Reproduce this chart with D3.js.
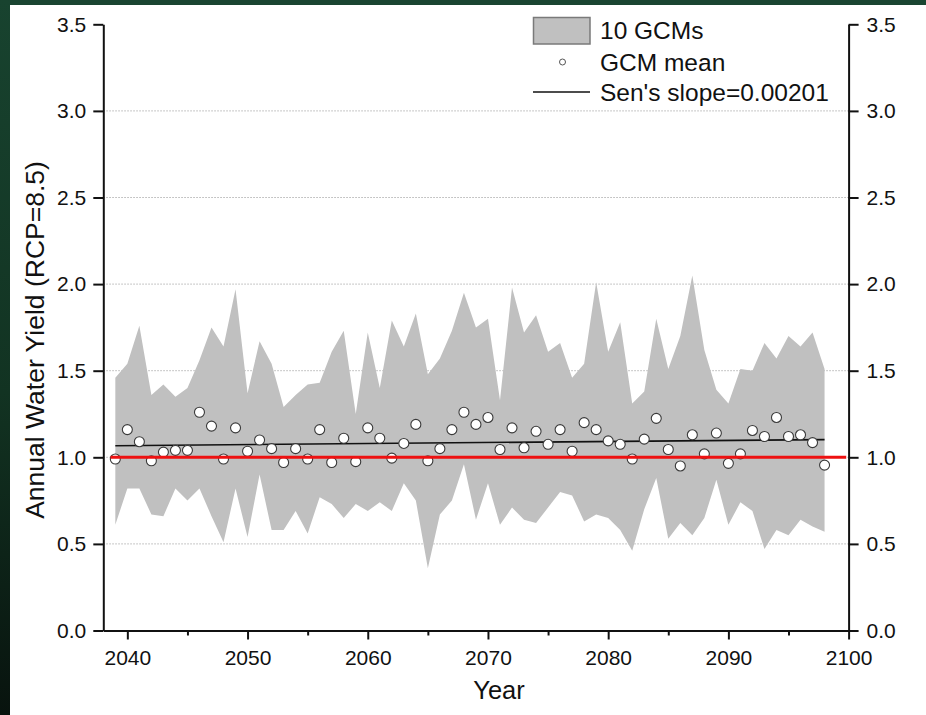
<!DOCTYPE html>
<html>
<head>
<meta charset="utf-8">
<script src="https://cdn.jsdelivr.net/npm/d3@7"></script>
<style>
  html, body { margin: 0; padding: 0; background: #ffffff; }
  svg { display: block; }
  text { font-family: "Liberation Sans", Arial, sans-serif; fill: #111; }
</style>
</head>
<body>
<svg id="chart" width="926" height="715"></svg>
<script>
// Projection years
const years = [
  2039, 2040, 2041, 2042, 2043, 2044, 2045, 2046, 2047, 2048,
  2049, 2050, 2051, 2052, 2053, 2054, 2055, 2056, 2057, 2058,
  2059, 2060, 2061, 2062, 2063, 2064, 2065, 2066, 2067, 2068,
  2069, 2070, 2071, 2072, 2073, 2074, 2075, 2076, 2077, 2078,
  2079, 2080, 2081, 2082, 2083, 2084, 2085, 2086, 2087, 2088,
  2089, 2090, 2091, 2092, 2093, 2094, 2095, 2096, 2097, 2098
];

// Upper envelope of the 10 GCMs
const gcmMax = [
  1.46, 1.54, 1.76, 1.36, 1.42, 1.35, 1.40, 1.56, 1.75, 1.64,
  1.97, 1.37, 1.67, 1.54, 1.29, 1.36, 1.42, 1.43, 1.61, 1.73,
  1.25, 1.72, 1.40, 1.79, 1.64, 1.83, 1.48, 1.57, 1.73, 1.95,
  1.75, 1.80, 1.33, 1.98, 1.72, 1.82, 1.61, 1.66, 1.46, 1.54,
  2.01, 1.61, 1.78, 1.31, 1.38, 1.80, 1.51, 1.70, 2.05, 1.62,
  1.39, 1.31, 1.51, 1.50, 1.66, 1.57, 1.70, 1.64, 1.72, 1.51
];

// Lower envelope of the 10 GCMs
const gcmMin = [
  0.61, 0.82, 0.82, 0.67, 0.66, 0.82, 0.75, 0.82, 0.66, 0.51,
  0.82, 0.54, 0.90, 0.58, 0.58, 0.69, 0.56, 0.77, 0.73, 0.65,
  0.73, 0.69, 0.74, 0.69, 0.85, 0.75, 0.36, 0.67, 0.75, 0.96,
  0.64, 0.85, 0.61, 0.71, 0.64, 0.62, 0.71, 0.80, 0.78, 0.63,
  0.67, 0.65, 0.58, 0.46, 0.70, 0.88, 0.53, 0.62, 0.55, 0.65,
  0.87, 0.61, 0.74, 0.69, 0.47, 0.58, 0.55, 0.64, 0.60, 0.57
];

// Ensemble mean of the 10 GCMs
const gcmMean = [
  0.99, 1.16, 1.09, 0.98, 1.03, 1.04, 1.04, 1.26, 1.18, 0.99,
  1.17, 1.035, 1.10, 1.05, 0.97, 1.05, 0.99, 1.16, 0.97, 1.11,
  0.975, 1.17, 1.11, 0.995, 1.08, 1.19, 0.98, 1.05, 1.16, 1.26,
  1.19, 1.23, 1.045, 1.17, 1.055, 1.15, 1.075, 1.16, 1.035, 1.20,
  1.16, 1.095, 1.075, 0.99, 1.105, 1.225, 1.045, 0.95, 1.13, 1.02,
  1.14, 0.965, 1.02, 1.155, 1.12, 1.23, 1.12, 1.13, 1.085, 0.955
];

// Trend line end points (year, value)
const trendYears = [2039, 2098];
const trendValues = [1.067, 1.102];

// Reference level
const refValue = 1.0;
const refYears = [2038.6, 2099.8];

// Axis ticks
const xMajorTicks = [2040, 2050, 2060, 2070, 2080, 2090, 2100];
const xMinorTicks = [2045, 2055, 2065, 2075, 2085, 2095];
const yTicks = [0.0, 0.5, 1.0, 1.5, 2.0, 2.5, 3.0, 3.5];
const gridValues = [0.5, 1.0, 1.5, 2.0, 2.5, 3.0];

// Legend entries
const legendLabels = ["10 GCMs", "GCM mean", "Sen's slope=0.00201"];
const xTitle = "Year";
const yTitle = "Annual Water Yield (RCP=8.5)";

const data = years.map((yr, i) => ({ year: yr, hi: gcmMax[i], lo: gcmMin[i], mean: gcmMean[i] }));

const svg = d3.select("#chart");

// slide backdrop strips
const defs = svg.append("defs");
const grad = defs.append("linearGradient").attr("id", "edge").attr("x1", 0).attr("y1", 0).attr("x2", 0).attr("y2", 1);
grad.append("stop").attr("offset", "0%").attr("stop-color", "#18432f");
grad.append("stop").attr("offset", "55%").attr("stop-color", "#123322");
grad.append("stop").attr("offset", "100%").attr("stop-color", "#08130e");
svg.append("rect").attr("x", 0).attr("y", 0).attr("width", 926).attr("height", 5).attr("fill", "#1a4531");
svg.append("rect").attr("x", 0).attr("y", 0).attr("width", 10).attr("height", 715).attr("fill", "url(#edge)");

const plotLeft = 103.3, plotRight = 848.6, plotTop = 24.3, plotBottom = 630.5;
const x = d3.scaleLinear().domain([2038, 2100]).range([plotLeft, plotRight]);
const y = d3.scaleLinear().domain([0, 3.5]).range([plotBottom, plotTop]);

// dotted grid
svg.append("g").selectAll("line").data(gridValues).join("line")
  .attr("x1", plotLeft).attr("x2", plotRight)
  .attr("y1", d => y(d)).attr("y2", d => y(d))
  .attr("stroke", "#b4b4b4").attr("stroke-width", 1)
  .attr("stroke-dasharray", "1.5,1.5");

// GCM envelope
const area = d3.area().x(d => x(d.year)).y0(d => y(d.lo)).y1(d => y(d.hi));
svg.append("path").datum(data).attr("d", area).attr("fill", "#c0c0c0");

// Sen's slope trend
const trendLine = d3.line().x(d => x(d[0])).y(d => y(d[1]));
svg.append("path")
  .datum(trendYears.map((t, i) => [t, trendValues[i]]))
  .attr("d", trendLine).attr("fill", "none")
  .attr("stroke", "#111").attr("stroke-width", 1.6);

// mean markers
svg.append("g").selectAll("circle").data(data).join("circle")
  .attr("cx", d => x(d.year)).attr("cy", d => y(d.mean)).attr("r", 5)
  .attr("fill", "#ffffff").attr("stroke", "#3a3a3a").attr("stroke-width", 1.1);

// reference line at 1.0
svg.append("line")
  .attr("x1", x(refYears[0])).attr("x2", x(refYears[1]))
  .attr("y1", y(refValue)).attr("y2", y(refValue))
  .attr("stroke", "#ee1111").attr("stroke-width", 3);

// axes
const fmt = d3.format(".1f");
const styleAxis = g => {
  g.selectAll("path.domain").attr("stroke", "#111").attr("stroke-width", 2);
  g.selectAll(".tick line").attr("stroke", "#111").attr("stroke-width", 2);
  g.selectAll("text").attr("font-size", 21).attr("fill", "#111")
    .attr("font-family", "'Liberation Sans', Arial, sans-serif");
};

svg.append("g").attr("transform", `translate(${plotLeft},0)`)
  .call(d3.axisLeft(y).tickValues(yTicks).tickFormat(fmt).tickSize(10).tickSizeOuter(0).tickPadding(7))
  .call(styleAxis);

svg.append("g").attr("transform", `translate(${plotRight},0)`)
  .call(d3.axisRight(y).tickValues(yTicks).tickFormat(fmt).tickSize(10).tickSizeOuter(0).tickPadding(8))
  .call(styleAxis);

svg.append("g").attr("transform", `translate(0,${plotBottom})`)
  .call(d3.axisBottom(x).tickValues(xMajorTicks).tickFormat(d3.format("d")).tickSize(9).tickSizeOuter(0).tickPadding(11))
  .call(styleAxis);

svg.append("g").attr("transform", `translate(0,${plotBottom})`)
  .call(d3.axisBottom(x).tickValues(xMinorTicks).tickFormat("").tickSize(5).tickSizeOuter(0))
  .call(g => g.select("path.domain").remove())
  .call(g => g.selectAll(".tick line").attr("stroke", "#111").attr("stroke-width", 2));

// axis titles
svg.append("text").attr("x", 499).attr("y", 699).attr("text-anchor", "middle")
  .attr("font-size", 25.5).text(xTitle);
svg.append("text").attr("transform", "translate(44,340) rotate(-90)")
  .attr("text-anchor", "middle").attr("font-size", 26.5).text(yTitle);

// legend
const lg = svg.append("g");
lg.append("rect").attr("x", 533.5).attr("y", 17.5).attr("width", 56.5).attr("height", 26.5)
  .attr("fill", "#c0c0c0").attr("stroke", "#7a7a7a").attr("stroke-width", 1.5);
lg.append("circle").attr("cx", 562.5).attr("cy", 62).attr("r", 3)
  .attr("fill", "#ffffff").attr("stroke", "#555").attr("stroke-width", 1);
lg.append("line").attr("x1", 533).attr("x2", 590).attr("y1", 92).attr("y2", 92)
  .attr("stroke", "#111").attr("stroke-width", 1.5);
const legendBaselines = [39, 71, 101];
lg.selectAll("text.lab").data(legendLabels).join("text").attr("class", "lab")
  .attr("x", 600).attr("y", (d, i) => legendBaselines[i])
  .attr("font-size", 24.5).text(d => d);
</script>
</body>
</html>
